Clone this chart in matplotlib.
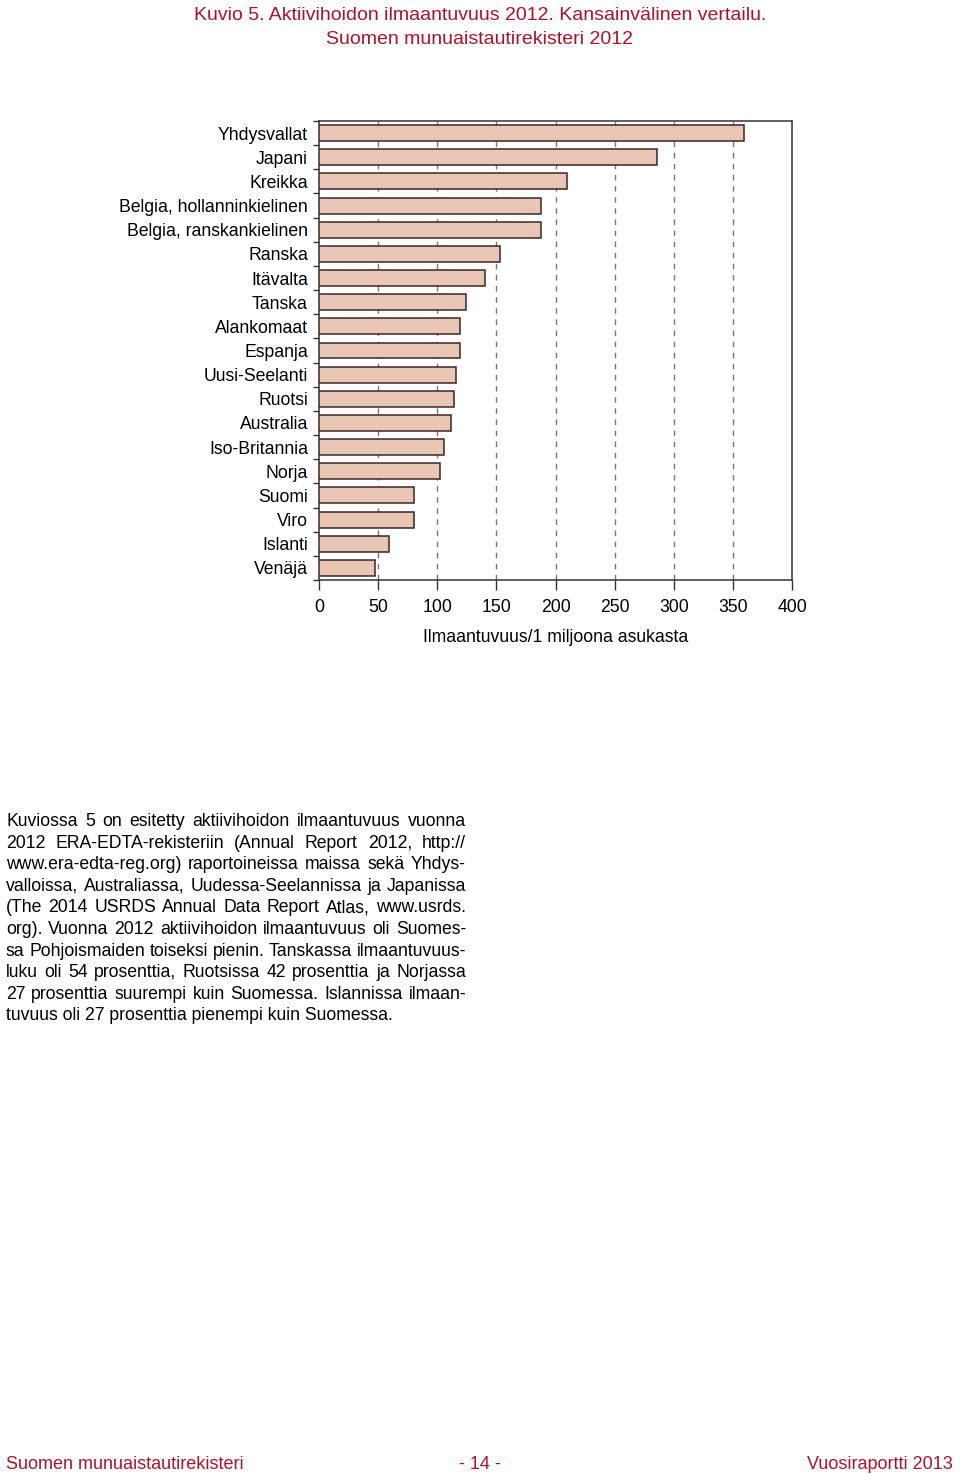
from matplotlib import pyplot as plt
import numpy as np

countries = ['Yhdysvallat', 'Japani', 'Kreikka', 'Belgia, hollanninkielinen',
             'Belgia, ranskankielinen', 'Ranska', 'Itävalta', 'Tanska', 'Alankomaat',
             'Espanja', 'Uusi-Seelanti', 'Ruotsi', 'Australia', 'Iso-Britannia',
             'Norja', 'Suomi', 'Viro', 'Islanti', 'Venäjä']
incidence = [359, 285.5, 210, 188, 188, 153, 140, 124, 119.5, 119.5,
             116, 114, 112, 106, 102.5, 80.5, 80.5, 59, 47.5]
xticks = [0, 50, 100, 150, 200, 250, 300, 350, 400]

title_lines = ['Kuvio 5. Aktiivihoidon ilmaantuvuus 2012. Kansainvälinen vertailu.',
               'Suomen munuaistautirekisteri 2012']
xlabel = 'Ilmaantuvuus/1 miljoona asukasta'
paragraph = ('Kuviossa 5 on esitetty aktiivihoidon ilmaantuvuus vuonna|'
             '2012 ERA-EDTA-rekisteriin (Annual Report 2012, http://|'
             'www.era-edta-reg.org) raportoineissa maissa sekä Yhdys-|'
             'valloissa, Australiassa, Uudessa-Seelannissa ja Japanissa|'
             '(The 2014 USRDS Annual Data Report Atlas, www.usrds.|'
             'org). Vuonna 2012 aktiivihoidon ilmaantuvuus oli Suomes-|'
             'sa Pohjoismaiden toiseksi pienin. Tanskassa ilmaantuvuus-|'
             'luku oli 54 prosenttia, Ruotsissa 42 prosenttia ja Norjassa|'
             '27 prosenttia suurempi kuin Suomessa. Islannissa ilmaan-|'
             'tuvuus oli 27 prosenttia pienempi kuin Suomessa.').split('|')
footer = ['Suomen munuaistautirekisteri', '- 14 -', 'Vuosiraportti 2013']

plt.rcParams['font.family'] = ['Liberation Sans', 'DejaVu Sans']
red = '#a3162b'
W, H = 960, 1474

fig = plt.figure(figsize=(W / 100, H / 100), dpi=100)
ax = fig.add_axes([319 / W, 1 - 580 / H, 473 / W, 459 / H])

y = np.arange(len(countries))
ax.barh(y, incidence, height=0.66, color='#e9c5b6', edgecolor='#3a2626', linewidth=1.1, zorder=3)
ax.set_ylim(len(countries) - 0.5, -0.5)
ax.set_xlim(0, 400)
ax.set_xticks(xticks)
ax.set_xticklabels([str(t) for t in xticks], fontsize=12.7)
ax.tick_params(axis='x', direction='out', length=7, width=1, pad=7, color='#333333')
ax.set_yticks(y)
ax.set_yticklabels(countries, fontsize=12.7)
ax.tick_params(axis='y', which='major', length=0, pad=8)
ax.set_yticks(np.arange(len(countries) + 1) - 0.5, minor=True)
ax.tick_params(axis='y', which='minor', direction='out', length=4, width=1, color='#333333')
for xv in xticks[1:-1]:
    ax.axvline(xv, color='#777777', linestyle=(0, (4, 4)), linewidth=1, zorder=1)
for s in ax.spines.values():
    s.set_color('#333333')
    s.set_linewidth(1.1)
ax.set_xlabel(xlabel, fontsize=12.7, labelpad=9)

for i, line in enumerate(title_lines):
    fig.text(0.5, 1 - (15.5 + 24 * i) / H, line, ha='center', va='center',
             fontsize=14, color=red)

# justified body text
fs = 12.7
x0, x1 = 6, 466
fig.canvas.draw()
renderer = fig.canvas.get_renderer()
for i, line in enumerate(paragraph):
    ypos = 1 - (826 + 21.6 * i) / H
    words = line.split(' ')
    if i == len(paragraph) - 1:
        fig.text(x0 / W, ypos, line, fontsize=fs, ha='left', va='baseline')
        continue
    widths = []
    for w in words:
        t = fig.text(0, 0, w, fontsize=fs)
        widths.append(t.get_window_extent(renderer).width)
        t.remove()
    gap = (x1 - x0 - sum(widths)) / (len(words) - 1)
    xp = x0
    for w, wd in zip(words, widths):
        fig.text(xp / W, ypos, w, fontsize=fs, ha='left', va='baseline')
        xp += wd + gap

fy = 1 - 1469 / H
fig.text(6 / W, fy, footer[0], ha='left', va='baseline', fontsize=13, color=red)
fig.text(480 / W, fy, footer[1], ha='center', va='baseline', fontsize=13, color=red)
fig.text(953 / W, fy, footer[2], ha='right', va='baseline', fontsize=13, color=red)

fig.savefig('out.png', dpi=100)
